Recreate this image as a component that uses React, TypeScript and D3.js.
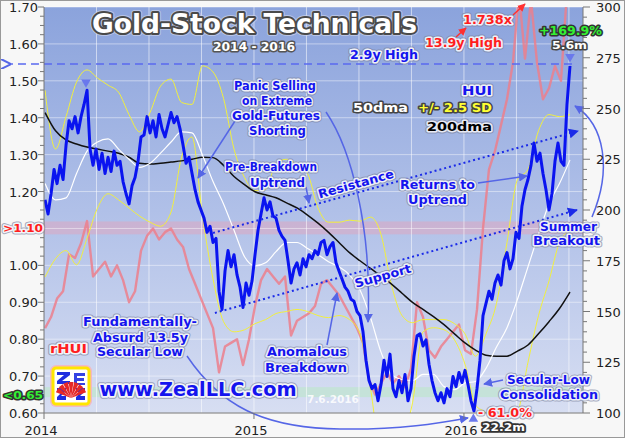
import React from "react";
import * as d3 from "d3";

const W = 625, H = 438;
const PL = 44, PR = 583, PT = 7, PB = 413;

// x in decimal years
const xStart = 2014, xEnd = 2016.567;
const yearTicks = [2014, 2015, 2016];
const quarterGrid = [2014.25, 2014.5, 2014.75, 2015, 2015.25, 2015.5, 2015.75, 2016, 2016.25, 2016.5];

const leftTicks = [0.6, 0.7, 0.8, 0.9, 1.0, 1.1, 1.2, 1.3, 1.4, 1.5, 1.6, 1.7];
const leftLabelSkip = [1.1]; // replaced by the ">1.10" zone label
const rightTicks = [100, 125, 150, 175, 200, 225, 250, 275, 300];

// HUI, sampled every 1/70 year
const huiStart = 2014.005, huiStep = 1 / 70;
const huiValues = [
  205,198,208,220,213,222,215,232,244,240,
  246,238,246,252,259,230,222,230,220,228,
  218,226,219,229,222,224,214,208,203,212,
  216,224,236,237,246,238,244,236,247,240,
  236,242,248,243,246,240,232,223,226,218,
  210,204,200,196,189,192,184,186,160,151,
  170,180,172,178,168,162,152,164,158,165,
  178,190,198,206,200,204,197,196,190,187,
  185,175,164,171,174,168,176,172,178,176,
  180,178,184,185,178,182,184,174,170,166,
  162,160,156,155,150,148,140,126,116,112,
  114,106,114,126,118,129,112,108,116,110,
  119,106,112,128,138,139,133,136,124,116,
  110,106,110,105,112,108,118,113,120,115,
  121,114,106,101,112,126,148,154,160,156,
  164,168,163,175,179,171,176,189,186,202,
  210,215,222,233,224,228,218,210,200,208,
  224,233,224,222,252,271
];

// rHUI (HUI / 200dma), sampled every 1/35 year
const rhuiStart = 2014.005, rhuiStep = 1 / 35;
const rhuiValues = [
  0.83,0.86,0.91,0.93,1.03,1.02,1.06,1.12,0.97,0.99,
  1.01,0.97,1.00,0.96,0.90,0.93,1.04,1.08,1.10,1.07,
  1.09,1.10,1.07,1.05,0.99,0.95,0.91,0.87,0.83,0.71,
  0.78,0.79,0.80,0.73,0.80,0.89,0.96,0.99,0.97,0.95,
  0.97,0.81,0.85,0.86,0.87,0.89,0.95,0.96,0.94,0.92,
  0.89,0.86,0.83,0.79,0.69,0.65,0.68,0.71,0.68,0.70,
  0.67,0.72,0.90,0.86,0.77,0.75,0.78,0.80,0.82,0.84,
  0.77,0.76,0.88,1.10,1.26,1.31,1.38,1.45,1.55,1.74,
  1.56,1.72,1.55,1.45,1.48,1.54,1.50,1.74
];

// smooth series, sampled every 1/20 year
const smoothStart = 2014.005, smoothStep = 1 / 20;
const dma200Values = [
  248,239,234.5,232.5,231,230,229,228,226,223,
  222.6,223,223.6,224.2,225,226,225.8,222,216.5,212.5,
  209,207.5,206,203.5,201,197.5,193.5,189,184,179,
  175,171.2,167.5,163.5,159,154.5,151,147.5,143.5,139,
  134.5,131,128.5,128,128,130.5,133.5,139,145,151.5,
  159.6
];
const dma50Values = [
  213,205,206,218,229,233.5,235,230,225,221,
  223,228,233.5,238.5,238,227,214,203,190,177,
  172.5,174,179.5,184,184,181,178,174.5,172,168,
  160.6,147,130,119,116.5,116,119,119,113,111.5,
  114.8,115.5,122,132.5,142,156,172,188,203,213,
  224.6
];
const sdUpperValues = [
  259,230,246,263,269,265,261.5,258,247,238.5,
  248,261,264.5,253,252,271,268,255,230,216,
  209.5,210,223,225,222.5,218,201,194,194,195,
  194.5,196.5,188,163,148,144.5,146,146,146,144,
  139,128,139,154,184,215,220,239,247,246,
  247
];
const sdLowerValues = [
  167,176,180,173,186,201,208,205,201,197,
  194,192,199,226,236,197,166,145,140,141,
  144,146,149,150,151,150,148,147,148,146,
  139,112,80,78,88,105,140,142,141,136,
  124,104,100,92,94,100,125,148,165,184,
  190
];

const highLineValue = 271.9; // 2.9y high
const resistanceLine = [[2014.805, 188.7], [2016.543, 238.9]];
const supportLine = [[2014.814, 149.3], [2016.538, 200.0]];
const rhuiHighZone = [1.084, 1.119];
const rhuiLowZone = [0.643, 0.67];
const markDown1 = [2014.2, 259];
const markDown2 = [2016.505, 271];
const markUp = [2016.045, 100];

const x = d3.scaleLinear().domain([xStart, xEnd]).range([PL, PR]);
const yR = d3.scaleLinear().domain([100, 300]).range([PB, PT]);
const yL = d3.scaleLinear().domain([0.6, 1.7]).range([PB, PT]);

const toSeries = (start: number, step: number, vals: number[]) =>
  vals.map((v, i) => [start + i * step, v] as [number, number]);

const lineR = d3.line<[number, number]>().x(d => x(d[0])).y(d => yR(d[1]));
const lineRs = d3.line<[number, number]>().x(d => x(d[0])).y(d => yR(d[1])).curve(d3.curveMonotoneX);
const lineL = d3.line<[number, number]>().x(d => x(d[0])).y(d => yL(d[1]));

const FONT = "DejaVu Sans";

function T(props: any) {
  const { x, y, children, size = 12, fill = "#1414ee", stroke = "#eef0f8", sw = 3, outer = "#7c84a0",
    anchor = "middle", rotate, weight = "bold", family = FONT, tl, opacity } = props;
  const common: any = {
    x, y, fontSize: size, fontFamily: family, fontWeight: weight, textAnchor: anchor,
    transform: rotate ? `rotate(${rotate},${x},${y})` : undefined,
  };
  if (tl) { common.textLength = tl; common.lengthAdjust = "spacingAndGlyphs"; }
  return (
    <g opacity={opacity}>
      {outer && <text {...common} fill="none" stroke={outer} strokeWidth={sw + 2} strokeLinejoin="round" opacity={0.65}>{children}</text>}
      <text {...common} fill={fill} stroke={stroke} strokeWidth={sw} strokeLinejoin="round" paintOrder="stroke">{children}</text>
    </g>
  );
}

export default function App() {
  const hui = toSeries(huiStart, huiStep, huiValues);
  const rhui = toSeries(rhuiStart, rhuiStep, rhuiValues);
  const d200 = toSeries(smoothStart, smoothStep, dma200Values);
  const d50 = toSeries(smoothStart, smoothStep, dma50Values);
  const up = toSeries(smoothStart, smoothStep, sdUpperValues);
  const lo = toSeries(smoothStart, smoothStep, sdLowerValues);

  const leftMinor = d3.range(0.6, 1.7001, 0.025);
  const rightMinor = d3.range(100, 300.01, 5);

  const ax = "#5566e6";
  const tri = d3.symbol(d3.symbolTriangle, 40)() as string;

  const rx0 = x(resistanceLine[0][0]), ry0 = yR(resistanceLine[0][1]);
  const rx1 = x(resistanceLine[1][0]), ry1 = yR(resistanceLine[1][1]);
  const sx0 = x(supportLine[0][0]), sy0 = yR(supportLine[0][1]);
  const sx1 = x(supportLine[1][0]), sy1 = yR(supportLine[1][1]);
  const ang = Math.atan2(ry1 - ry0, rx1 - rx0) * 180 / Math.PI;

  return (
    <svg width={W} height={H} style={{ position: "absolute", left: 0, top: 0, background: "#f7f7f7" }}>
      <defs>
        <linearGradient id="bg" x1="0" y1="0" x2="0" y2="1">
          <stop offset="0" stopColor="#8ba3dc" />
          <stop offset="0.5" stopColor="#b0c0e8" />
          <stop offset="1" stopColor="#d7def2" />
        </linearGradient>
        <clipPath id="clip"><rect x={PL} y={PT} width={PR - PL} height={PB - PT} /></clipPath>
        <marker id="ab" viewBox="0 0 10 10" refX="9" refY="5" markerWidth="9" markerHeight="9" markerUnits="userSpaceOnUse" orient="auto">
          <path d="M0,0 L10,5 L0,10 z" fill={ax} />
        </marker>
        <marker id="ar" viewBox="0 0 10 10" refX="9" refY="5" markerWidth="8" markerHeight="8" markerUnits="userSpaceOnUse" orient="auto">
          <path d="M0,0 L10,5 L0,10 z" fill="#ff3030" />
        </marker>
        <marker id="at" viewBox="0 0 10 10" refX="9" refY="5" markerWidth="10" markerHeight="10" markerUnits="userSpaceOnUse" orient="auto">
          <path d="M0,0 L10,5 L0,10 z" fill="#1a2ae8" />
        </marker>
        <marker id="ad" viewBox="0 0 10 10" refX="1" refY="5" markerWidth="10" markerHeight="10" markerUnits="userSpaceOnUse" orient="auto">
          <path d="M10,0 L0,5 L10,10" fill="none" stroke={ax} strokeWidth="2" />
        </marker>
      </defs>
      <rect x={0.5} y={0.5} width={W - 1} height={H - 1} fill="#f7f7f7" stroke="#999" />

      {/* plot background */}
      <rect x={PL} y={PT} width={PR - PL} height={PB - PT} fill="url(#bg)" />
      <rect x={PL} y={yL(rhuiHighZone[1])} width={PR - PL} height={yL(rhuiHighZone[0]) - yL(rhuiHighZone[1])} fill="#e6a2b8" opacity={0.45} />
      <rect x={PL} y={yL(rhuiLowZone[1])} width={PR - PL} height={yL(rhuiLowZone[0]) - yL(rhuiLowZone[1])} fill="#bfe6cf" opacity={0.7} />

      {/* grid */}
      {quarterGrid.map(q => (
        <line key={q} x1={x(q)} x2={x(q)} y1={PT} y2={PB} stroke="#ffffff" strokeOpacity={0.55} strokeWidth={1} />
      ))}
      {leftTicks.map(t => (
        <line key={t} x1={PL} x2={PR} y1={yL(t)} y2={yL(t)} stroke="#ffffff" strokeOpacity={0.45} strokeWidth={1} />
      ))}

      <g clipPath="url(#clip)">
        <path d={lineL(rhui) as string} fill="none" stroke="#ec7f8c" strokeOpacity={0.85} strokeWidth={2.4} strokeLinejoin="round" />
        <path d={lineRs(up) as string} fill="none" stroke="#f2f03c" strokeWidth={1} />
        <path d={lineRs(lo) as string} fill="none" stroke="#f2f03c" strokeWidth={1} />
        <path d={lineRs(d200) as string} fill="none" stroke="#111" strokeWidth={1.5} />
        <path d={lineRs(d50) as string} fill="none" stroke="#ffffff" strokeWidth={1.2} />
        <path d={lineR(hui) as string} fill="none" stroke="#0a14f0" strokeWidth={3} strokeLinejoin="round" />
      </g>

      {/* trend channel */}
      <line x1={rx0} y1={ry0} x2={rx1} y2={ry1} stroke="#1a2ae8" strokeWidth={2} strokeDasharray="2,3" markerEnd="url(#at)" />
      <line x1={sx0} y1={sy0} x2={sx1} y2={sy1} stroke="#1a2ae8" strokeWidth={2} strokeDasharray="2,3" markerEnd="url(#at)" />

      {/* 2.9y high dashed line */}
      <line x1={x(markDown2[0]) + 2} y1={yR(highLineValue)} x2={10} y2={yR(highLineValue)} stroke="#5a6af0" strokeWidth={1.6} strokeDasharray="8,5" markerEnd="url(#ad)" />

      {/* markers */}
      <path d={tri} transform={`translate(${x(markDown1[0])},${yR(markDown1[1]) - 8}) rotate(180)`} fill="#6a78ec" />
      <path d={tri} transform={`translate(${x(markDown2[0])},${yR(markDown2[1]) - 9}) rotate(180)`} fill="#6a78ec" />
      <path d={tri} transform={`translate(${x(markUp[0])},${yR(markUp[1]) + 6})`} fill="#6a78ec" />

      {/* annotation arrows */}
      <line x1={235} y1={121} x2={198} y2={178} stroke={ax} strokeWidth={1.5} markerEnd="url(#ab)" />
      <path d="M326,112 C352,150 372,230 368,322" fill="none" stroke={ax} strokeWidth={1.5} markerEnd="url(#ab)" />
      <line x1={306} y1={187} x2={309} y2={203} stroke={ax} strokeWidth={1.5} markerEnd="url(#ab)" />
      <line x1={478} y1={183} x2={527} y2={176} stroke={ax} strokeWidth={1.5} markerEnd="url(#ab)" />
      <path d="M592,217 C612,170 605,125 575,106" fill="none" stroke={ax} strokeWidth={1.5} markerEnd="url(#ab)" />
      <line x1={327} y1={345} x2={337} y2={293} stroke={ax} strokeWidth={1.5} markerEnd="url(#ab)" />
      <path d="M187,356 C220,405 262,428 340,429 C400,430 440,423 468,418" fill="none" stroke={ax} strokeWidth={1.5} markerEnd="url(#ab)" />
      <line x1={503} y1={380} x2={484} y2={384} stroke={ax} strokeWidth={1.5} markerEnd="url(#ab)" />
      <line x1={513} y1={15} x2={525} y2={4} stroke="#ff3030" strokeWidth={1.5} markerEnd="url(#ar)" />
      <line x1={456} y1={37} x2={466} y2={28} stroke="#ff3030" strokeWidth={1.5} markerEnd="url(#ar)" />

      {/* axes */}
      <line x1={PL} x2={PL} y1={PT} y2={PB} stroke="#777" />
      <line x1={PR} x2={PR} y1={PT} y2={PB} stroke="#777" />
      <line x1={PL} x2={PR} y1={PB} y2={PB} stroke="#777" />
      {leftMinor.map((t, i) => (
        <line key={i} x1={PL} x2={PL - (i % 4 === 0 ? 6 : 4)} y1={yL(t)} y2={yL(t)} stroke="#777" />
      ))}
      {rightMinor.map((t, i) => (
        <line key={i} x1={PR} x2={PR + (i % 5 === 0 ? 7 : 4)} y1={yR(t)} y2={yR(t)} stroke="#777" />
      ))}
      {yearTicks.map(t => (
        <line key={t} x1={x(t)} x2={x(t)} y1={PB} y2={PB + 6} stroke="#777" />
      ))}
      {leftTicks.filter(t => !leftLabelSkip.includes(t)).map(t => (
        <text key={t} x={38} y={yL(t) + 5} fontSize={13} fontFamily={FONT} textAnchor="end" fill="#222">{d3.format(".2f")(t)}</text>
      ))}
      {rightTicks.map(t => (
        <text key={t} x={596} y={yR(t) + 5} fontSize={13} fontFamily={FONT} textAnchor="start" fill="#222">{t}</text>
      ))}
      {yearTicks.map(t => (
        <text key={t} x={x(t) - 3} y={435} fontSize={13} fontFamily={FONT} textAnchor="middle" fill="#222">{t}</text>
      ))}

      {/* title */}
      <T x={254.5} y={33} size={26} fill="#ffffff" stroke="#4a4a4a" sw={4} outer="#cfd6ec" tl={325}>Gold-Stock Technicals</T>
      <T x={254} y={51} size={12} fill="#ffffff" stroke="#555" sw={3} outer={null} tl={82}>2014 - 2016</T>

      {/* texts */}
      <T x={384} y={59} tl={68}>2.9y High</T>
      <T x={487.5} y={24} fill="#ff1e1e" tl={49}>1.738x</T>
      <T x={463.5} y={47} fill="#ff1e1e" tl={77}>13.9y High</T>
      <T x={570.5} y={35} fill="#33f033" stroke="#333" sw={3} outer={null} tl={63}>+169.9%</T>
      <T x={569.5} y={49} size={11} fill="#ffffff" stroke="#444" sw={3} outer={null} tl={35}>5.6m</T>
      <T x={477} y={95} size={13} tl={30}>HUI</T>
      <T x={380.5} y={112} size={12.5} fill="#ffffff" stroke="#444" outer={null} tl={55}>50dma</T>
      <T x={455} y={112} size={12.5} fill="#ffff33" stroke="#444" outer={null} tl={74}>+/- 2.5 SD</T>
      <T x={459.5} y={131} size={12.5} fill="#000000" stroke="#e8eaf4" tl={65}>200dma</T>

      <T x={275} y={90} tl={82}>Panic Selling</T>
      <T x={277} y={105} tl={70}>on Extreme</T>
      <T x={276} y={120} tl={88}>Gold-Futures</T>
      <T x={277.5} y={135} tl={57}>Shorting</T>

      <T x={271} y={171} tl={92}>Pre-Breakdown</T>
      <T x={277.5} y={187} tl={55}>Uptrend</T>

      <T x={357} y={188} rotate={ang} tl={78}>Resistance</T>
      <T x={384} y={280} rotate={ang} tl={58}>Support</T>

      <T x={437.5} y={189} tl={75}>Returns to</T>
      <T x={437.5} y={204} tl={59}>Uptrend</T>

      <T x={568.5} y={231} tl={57}>Summer</T>
      <T x={566.5} y={245} tl={67}>Breakout</T>

      <T x={140} y={326} tl={114}>Fundamentally-</T>
      <T x={140.5} y={342} tl={95}>Absurd 13.5y</T>
      <T x={140} y={356} tl={86}>Secular Low</T>

      <T x={307} y={356} tl={80}>Anomalous</T>
      <T x={306} y={372} tl={82}>Breakdown</T>

      <T x={548.5} y={384} tl={83}>Secular-Low</T>
      <T x={549} y={399} tl={98}>Consolidation</T>

      <T x={505} y={417} fill="#ff1e1e" tl={54}>- 61.0%</T>
      <T x={503.5} y={431} size={11} fill="#ffffff" stroke="#333" sw={3.5} outer={null} tl={43}>22.2m</T>
      <text x={333} y={403} fontSize={10.5} fontFamily={FONT} fontWeight="bold" textAnchor="middle" fill="#ffffff" opacity={0.85}>7.6.2016</text>

      <T x={68.5} y={353} size={12} fill="#ff1e1e" stroke="#f4f4f8" tl={37}>rHUI</T>
      <T x={23} y={232} size={11} fill="#ff1e1e" stroke="#f4f4f8" tl={40}>&gt;1.10</T>
      <T x={23} y={399} size={11} fill="#33f033" stroke="#333" outer={null} tl={40}>&lt;0.65</T>

      {/* logo */}
      <g transform="translate(50,365)">
        <rect x={0} y={0} width={42} height={42} rx={6} fill="#f2b8c4" />
        <rect x={3} y={3} width={36} height={36} rx={3} fill="#ffffff" stroke="#ffe600" strokeWidth={3} />
        <path d="M7,7 L20,7 L20,10 L12,16 L20,16 L20,19 L7,19 L7,16 L14,10 L7,10 Z" fill="#1e2de0" />
        <path d="M7,23 L16,23 L16,26 L11,31 L16,31 L16,35 L7,35 L7,32 L12,27 L7,27 Z" fill="#1e2de0" />
        <path d="M26,23 L35,23 L35,26 L30,31 L35,31 L35,35 L26,35 L26,32 L31,27 L26,27 Z" fill="#1e2de0" />
        <path d="M24,8 L35,8 L35,11 L27,11 L27,13 L34,13 L34,16 L27,16 L27,18 L35,18 L35,20 L24,20 Z" fill="#1e2de0" opacity={0.9} />
        {d3.range(-60, 61, 20).map(a => (
          <path key={a} d="M21,33 L18.5,17 L23.5,17 Z" transform={`rotate(${a},21,33)`} fill="#e52828" />
        ))}
      </g>
      <T x={198} y={396} size={19} tl={197} stroke="#f2f4fa" sw={3.5}>www.ZealLLC.com</T>
    </svg>
  );
}
